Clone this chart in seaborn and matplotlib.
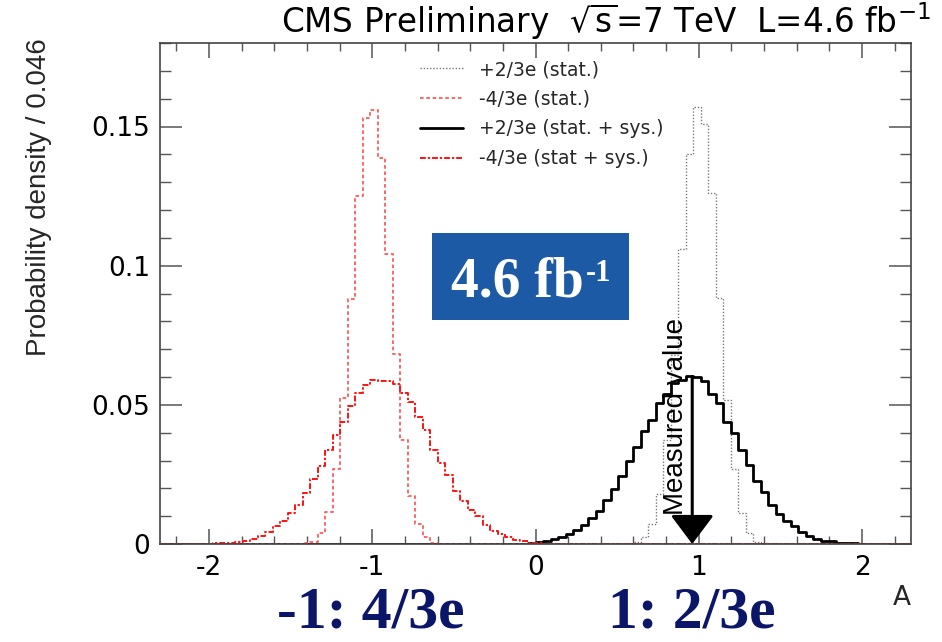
import numpy as np
import pandas as pd
import matplotlib
matplotlib.use("Agg")
import matplotlib.pyplot as plt
import seaborn as sns
from matplotlib.lines import Line2D
from matplotlib.patches import Rectangle, FancyArrowPatch
from matplotlib.ticker import MultipleLocator, FixedLocator, FixedFormatter

# ---------------- data ----------------
A_MIN, A_MAX, N_BINS = -2.3, 2.3, 100          # 100 bins of width 0.046

# bin contents, given from the first non-empty bin index onwards
red_stat_first_bin = 19
red_stat = [0.0002, 0.0006, 0.0040, 0.0114, 0.0270, 0.0524, 0.0880, 0.1252,
            0.1529, 0.1561, 0.1386, 0.1041, 0.0681, 0.0374, 0.0174, 0.0072,
            0.0024, 0.0004]

red_sys_first_bin = 6
red_sys = [0.0001, 0.0002, 0.0003, 0.0005, 0.0007, 0.0012, 0.0018, 0.0030,
           0.0042, 0.0063, 0.0081, 0.0111, 0.0141, 0.0185, 0.0232, 0.0282,
           0.0339, 0.0390, 0.0440, 0.0497, 0.0543, 0.0573, 0.0591, 0.0587,
           0.0585, 0.0576, 0.0543, 0.0509, 0.0455, 0.0408, 0.0338, 0.0291,
           0.0248, 0.0192, 0.0156, 0.0122, 0.0099, 0.0067, 0.0048, 0.0036,
           0.0024, 0.0014, 0.0009, 0.0005, 0.0002]

black_stat_first_bin = 63
black_stat = [0.0006, 0.0024, 0.0072, 0.0180, 0.0372, 0.0680, 0.1060, 0.1400,
              0.1570, 0.1510, 0.1260, 0.0885, 0.0518, 0.0270, 0.0110, 0.0038,
              0.0008, 0.0002]

black_sys_first_bin = 48
black_sys = [0.0001, 0.0003, 0.0006, 0.0011, 0.0017, 0.0026, 0.0036, 0.0050,
             0.0069, 0.0093, 0.0120, 0.0158, 0.0198, 0.0246, 0.0300, 0.0348,
             0.0405, 0.0444, 0.0506, 0.0540, 0.0578, 0.0590, 0.0602, 0.0600,
             0.0585, 0.0540, 0.0506, 0.0437, 0.0398, 0.0336, 0.0285, 0.0228,
             0.0186, 0.0141, 0.0108, 0.0084, 0.0064, 0.0042, 0.0028, 0.0018,
             0.0012, 0.0009, 0.0005, 0.0003, 0.0002]

measured_value = 0.96
arrow_top = 0.0602

series_labels = ["+2/3e (stat.)", "-4/3e (stat.)",
                 "+2/3e (stat. + sys.)", "-4/3e (stat + sys.)"]
x_tick_values = [-2, -1, 0, 1, 2]
x_tick_labels = ["-2", "-1", "0", "1", "2"]
y_tick_values = [0, 0.05, 0.1, 0.15]
y_tick_labels = ["0", "0.05", "0.1", "0.15"]

# ---------------- style ----------------
sns.set_theme(style="ticks")
plt.rcParams["font.family"] = ["DejaVu Sans"]
plt.rcParams["mathtext.fontset"] = "dejavusans"

bin_width = (A_MAX - A_MIN) / N_BINS
centers = A_MIN + bin_width * (np.arange(N_BINS) + 0.5)


def full_hist(first, values):
    w = np.zeros(N_BINS)
    w[first:first + len(values)] = values
    return w


weights = {
    series_labels[0]: full_hist(black_stat_first_bin, black_stat),
    series_labels[1]: full_hist(red_stat_first_bin, red_stat),
    series_labels[2]: full_hist(black_sys_first_bin, black_sys),
    series_labels[3]: full_hist(red_sys_first_bin, red_sys),
}
df = pd.concat([pd.DataFrame({"A": centers, "w": weights[s], "series": s})
                for s in series_labels], ignore_index=True)

styles = {
    series_labels[0]: dict(color="#7a7a7a", linestyle=(0, (1, 1.3)), linewidth=1.0),
    series_labels[1]: dict(color="#ff5a5a", linestyle=(0, (2, 1.5)), linewidth=1.3),
    series_labels[2]: dict(color="black", linestyle="-", linewidth=2.0),
    series_labels[3]: dict(color="#ff1010", linestyle=(0, (3, 1, 1.2, 1)), linewidth=1.4),
}

fig = plt.figure(figsize=(9.42, 6.42), dpi=100)
fig.patch.set_facecolor("white")
ax = fig.add_axes([160 / 942, 1 - 544 / 642, 751 / 942, 501 / 642])

for s in [series_labels[0], series_labels[2], series_labels[1], series_labels[3]]:
    sns.histplot(data=df[df["series"] == s], x="A", weights="w",
                 bins=N_BINS, binrange=(A_MIN, A_MAX),
                 element="step", fill=False, ax=ax, **styles[s])

ax.set_xlim(A_MIN, A_MAX)
ax.set_ylim(0, 0.18)

# ticks (ROOT style: inward, on all sides)
ax.xaxis.set_major_locator(FixedLocator(x_tick_values))
ax.xaxis.set_major_formatter(FixedFormatter(x_tick_labels))
ax.xaxis.set_minor_locator(MultipleLocator(0.2))
ax.yaxis.set_major_locator(FixedLocator(y_tick_values))
ax.yaxis.set_major_formatter(FixedFormatter(y_tick_labels))
ax.yaxis.set_minor_locator(MultipleLocator(0.01))
ax.tick_params(which="both", direction="in", top=True, right=True,
               color="#555555", labelcolor="black")
ax.tick_params(axis="x", which="major", length=11, width=1.1, labelsize=19, pad=8)
ax.tick_params(axis="x", which="minor", length=5.5, width=1.0)
ax.tick_params(axis="y", which="major", length=16, width=1.1, labelsize=19, pad=7)
ax.tick_params(axis="y", which="minor", length=8, width=1.0)
for sp in ax.spines.values():
    sp.set_color("#444444")
    sp.set_linewidth(1.2)
    sp.set_visible(True)

ax.set_ylabel("Probability density / 0.046", loc="top", fontsize=20,
              family="Liberation Sans")
ax.yaxis.set_label_coords(-0.1436, 1.01)
ax.set_xlabel("A", loc="right", fontsize=19, labelpad=3)

# legend
handles = [Line2D([], [], **styles[s]) for s in series_labels]
ax.legend(handles, series_labels, loc="upper left",
          bbox_to_anchor=(420 / 942, 1 - 60 / 642), bbox_transform=fig.transFigure,
          frameon=False, fontsize=13.5, borderpad=0, borderaxespad=0,
          handlelength=2.3, handletextpad=0.85, labelspacing=0.57)

# title
fig.text(0.988, 1 - 33 / 642,
         r"CMS Preliminary  $\sqrt{\mathrm{s}}$=7 TeV  L=4.6 fb$^{\mathrm{-1}}$",
         ha="right", va="baseline", fontsize=23.5, color="black")

# blue luminosity box
ax.add_patch(Rectangle((0.3617, 0.448), 0.2633, 0.172, transform=ax.transAxes,
                       facecolor="#1c5aa6", edgecolor="none", zorder=5))
t_main = ax.text(0.388, 0.494, "4.6 fb", transform=ax.transAxes, ha="left",
                 va="baseline", fontsize=40, fontweight="bold",
                 family="Liberation Serif", color="white", zorder=6)
ax.annotate("-1", xy=(1.0, 1.0), xycoords=t_main, xytext=(1, -2),
            textcoords="offset points", ha="left", va="top", fontsize=22,
            fontweight="bold", family="Liberation Serif", color="white", zorder=6)

# measured value arrow
arrow = FancyArrowPatch((measured_value, arrow_top), (measured_value, 0),
                        arrowstyle="-|>,head_length=18,head_width=13.5",
                        mutation_scale=1, color="black", linewidth=2.2,
                        shrinkA=0, shrinkB=0, zorder=7)
ax.add_patch(arrow)
ax.text(0.862, 0.0458, "Measured value", rotation=90, ha="center", va="center",
        fontsize=20, family="Liberation Sans", color="black", zorder=8)

# big charge labels below the plot
fig.text(371 / 942, 1 - 627 / 642, "-1: 4/3e", ha="center", va="baseline",
         fontsize=43, fontweight="bold", family="Liberation Serif", color="#0b1668")
fig.text(692 / 942, 1 - 627 / 642, "1: 2/3e", ha="center", va="baseline",
         fontsize=43, fontweight="bold", family="Liberation Serif", color="#0b1668")

fig.savefig("out.png", dpi=100, facecolor="white")
